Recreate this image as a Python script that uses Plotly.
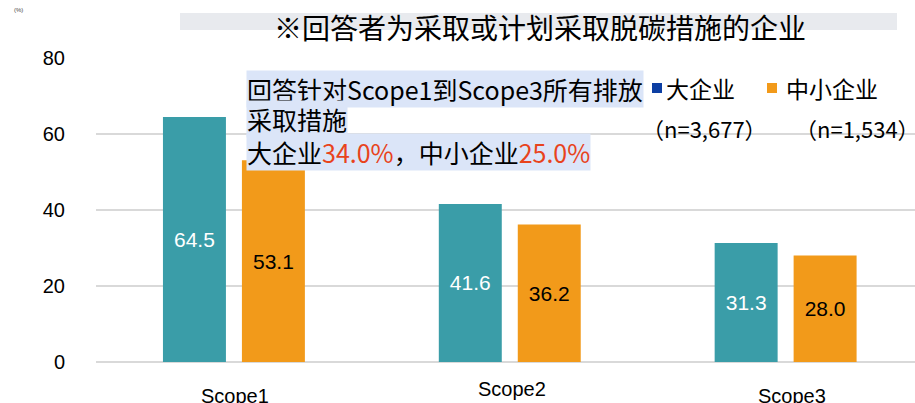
import plotly.graph_objects as go

# ---- data ----
categories = ["Scope1", "Scope2", "Scope3"]
large_values = [64.5, 41.6, 31.3]
sme_values = [53.1, 36.2, 28.0]
series_names = ["大企业", "中小企业"]
series_n = ["（n=3,677）", "（n=1,534）"]
y_ticks = [0, 20, 40, 60, 80]
title_text = "※回答者为采取或计划采取脱碳措施的企业"
note_lines = ["回答针对Scope1到Scope3所有排放", "采取措施"]
note_large_pct = "34.0%"
note_sme_pct = "25.0%"

# ---- styling ----
W, H = 915, 403
ML, MR, MT, MB = 96, 0, 58, 41
PW, PH = W - ML - MR, H - MT - MB
TEAL = "#3a9da8"
ORANGE = "#f29a1a"
LEG_BLUE = "#0d3fa3"
RED = "#e8431c"
NOTE_BG = "#dbe5f8"
CJK = "Noto Sans CJK SC"
LAT = "Liberation Sans"


def px(x):
    return (x - ML) / PW


def py(y):
    return (H - MB - y) / PH


fig = go.Figure()
fig.add_trace(go.Bar(
    x=categories, y=large_values, name=series_names[0],
    marker=dict(color=TEAL, line=dict(width=0)),
    texttemplate="%{y:.1f}", textposition="inside", insidetextanchor="middle",
    textangle=0, constraintext="none",
    textfont=dict(color="white", size=21, family=LAT),
    showlegend=False,
))
fig.add_trace(go.Bar(
    x=categories, y=sme_values, name=series_names[1],
    marker=dict(color=ORANGE, line=dict(width=0)),
    texttemplate="%{y:.1f}", textposition="inside", insidetextanchor="middle",
    textangle=0, constraintext="none",
    textfont=dict(color="black", size=21, family=LAT),
    showlegend=False,
))

annotations = []
shapes = []

# title with gray band
shapes.append(dict(type="rect", xref="paper", yref="paper",
                   x0=px(180), x1=px(897), y0=py(30), y1=py(13),
                   fillcolor="#e8eaee", line=dict(width=0), layer="below"))
annotations.append(dict(text=title_text, xref="paper", yref="paper",
                        x=px(540), y=py(27), xanchor="center", yanchor="middle",
                        showarrow=False, font=dict(family=CJK, size=28, color="black")))

# (%) unit label
annotations.append(dict(text="(%)", xref="paper", yref="paper",
                        x=px(12), y=py(10), xanchor="left", yanchor="middle",
                        showarrow=False, font=dict(family=LAT, size=6, color="#444")))

# category labels
cat_y = [396, 389, 396]
cat_x_off = [1, 2, 6]
for i, c in enumerate(categories):
    annotations.append(dict(text=c, xref="x", yref="paper", x=i, y=py(cat_y[i]),
                            xanchor="center", yanchor="middle", xshift=cat_x_off[i],
                            showarrow=False, font=dict(family=LAT, size=20, color="black")))

# note box lines
note_ys = [89, 119, 152]
lines = [note_lines[0], note_lines[1],
         f"{series_names[0]}<span style='color:{RED}'>{note_large_pct}</span>，"
         f"{series_names[1]}<span style='color:{RED}'>{note_sme_pct}</span>"]
for t, yy in zip(lines, note_ys):
    annotations.append(dict(text=t, xref="paper", yref="paper", x=px(246), y=py(yy),
                            xanchor="left", yanchor="middle", showarrow=False,
                            bgcolor=NOTE_BG, borderpad=0,
                            font=dict(family=CJK, size=25, color="black")))

# manual legend
leg = [(652, 664, LEG_BLUE, 704), (767, 784, ORANGE, 857)]
for (sx, tx, col, nx), name, n in zip(leg, series_names, series_n):
    shapes.append(dict(type="rect", xref="paper", yref="paper",
                       x0=px(sx), x1=px(sx + 10), y0=py(93), y1=py(83),
                       fillcolor=col, line=dict(width=0)))
    annotations.append(dict(text=name, xref="paper", yref="paper", x=px(tx), y=py(88),
                            xanchor="left", yanchor="middle", showarrow=False,
                            font=dict(family=CJK, size=23, color="black")))
    annotations.append(dict(text=n, xref="paper", yref="paper", x=px(nx), y=py(128),
                            xanchor="center", yanchor="middle", showarrow=False,
                            font=dict(family=CJK, size=22, color="black")))

fig.update_layout(
    width=W, height=H,
    margin=dict(l=ML, r=MR, t=MT, b=MB, pad=0),
    paper_bgcolor="white", plot_bgcolor="white",
    barmode="group", bargap=0.4275, bargroupgap=0.2025,
    annotations=annotations, shapes=shapes,
    xaxis=dict(type="category", categoryorder="array", categoryarray=categories,
               range=[-0.5, 2.469], showticklabels=False, showgrid=False,
               showline=False, zeroline=False, ticks=""),
    yaxis=dict(range=[0, 80], tickvals=y_ticks, showgrid=True, gridcolor="#d9d9d9",
               gridwidth=2, zeroline=True, zerolinecolor="#d9d9d9", zerolinewidth=2,
               showline=False, ticks="outside", ticklen=26, tickcolor="rgba(0,0,0,0)",
               tickfont=dict(family=LAT, size=20, color="black")),
    showlegend=False,
)

fig.write_html("out.html", config={"displayModeBar": False},
               post_script="document.body.style.margin='0';document.body.style.overflow='hidden';")
